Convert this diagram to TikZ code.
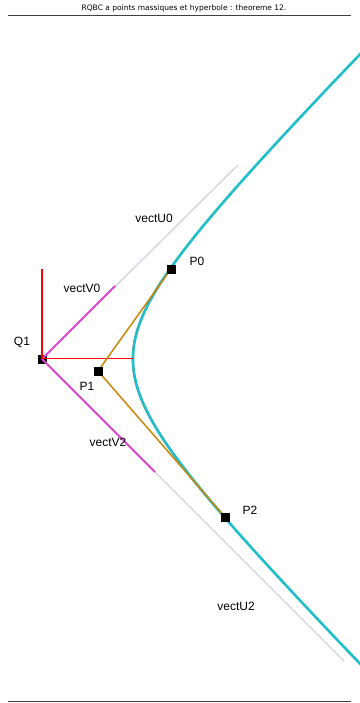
\documentclass[tikz,border=0pt]{standalone}
\usepackage{fontspec}
\setmainfont{Liberation Sans}
\newfontfamily\titlefont{DejaVu Sans}
\usepackage{tikz}
\usetikzlibrary{positioning,calc}
\definecolor{hypcyan}{RGB}{32,190,200}
\definecolor{vmagenta}{RGB}{220,70,210}
\definecolor{tanorange}{RGB}{200,135,10}
\definecolor{asymgray}{RGB}{200,200,215}
\definecolor{axered}{RGB}{255,0,0}

\begin{document}
\begin{tikzpicture}[
  x=1pt, y=-1pt,
  pt/.style={draw=black, fill=black, minimum size=8pt, inner sep=0pt},
  lbl/.style={font=\fontsize{12}{14}\selectfont, inner sep=1pt},
  asym/.style={asymgray, line width=1pt},
  vvec/.style={vmagenta, line width=2pt},
  tang/.style={tanorange, line width=1.5pt},
  axe/.style={draw=axered, line width=1.3pt}
]
\useasboundingbox (0,0) rectangle (359,703);

% Title and rules
\node[font=\titlefont\fontsize{7.5}{9}\selectfont] (title) at (184,8) {RQBC a points massiques et hyperbole : theoreme 12.};
\draw[black!75, line width=1pt] (8,16) -- (351,16);
\draw[black!75, line width=1pt] (8,701) -- (351,701);

% Center and end points
\coordinate (vert) at (133,358.5);
\coordinate (ytop) at (42,269);
\coordinate (u0) at (238,165);
\coordinate (v0) at (115,286);
\coordinate (u2) at (344,661);
\coordinate (v2) at (155,472);

% Asymptotes
\draw[asym] (42,359) -- (u0);
\draw[asym] (42,359) -- (u2);

% Hyperbola: red arc under the cyan one
\draw[axered, line width=0.8pt, xshift=-0.8pt] plot[domain=-0.873:1.317, samples=60]
  ({42+91*cosh(\x)}, {359+91*sinh(\x)});
\draw[hypcyan, line width=2.6pt] plot[domain=-1.93:1.93, samples=120]
  ({42+91*cosh(\x)}, {359+91*sinh(\x)});

% Points
\node[pt] (q1) at (42,359) {};
\node[pt] (p0) at (171,269) {};
\node[pt] (p1) at (98,371) {};
\node[pt] (p2) at (225,517) {};

% Vectors
\draw[vvec] (q1.center) -- (v0);
\draw[vvec] (q1.center) -- (v2);
\draw[axe] (q1.center) -- (ytop);
\draw[axe] (q1.center |- vert) -- (vert);

% Tangents
\draw[tang] (p1.center) -- (p0.center);
\draw[tang] (p1.center) -- (p2.center);
\node[pt] at (p0) {};
\node[pt] at (p1) {};
\node[pt] at (p2) {};

% Labels
\node[lbl] (lq1) at (22,342) {Q1};
\node[lbl] (lp1) at (87,386) {P1};
\node[lbl] (lp0) at (197,261) {P0};
\node[lbl] (lp2) at (250,510) {P2};
\node[lbl] (lv0) at (82,288) {vectV0};
\node[lbl] (lu0) at (154,218) {vectU0};
\node[lbl] (lv2) at (108,442) {vectV2};
\node[lbl] (lu2) at (236,606) {vectU2};

\end{tikzpicture}
\end{document}
